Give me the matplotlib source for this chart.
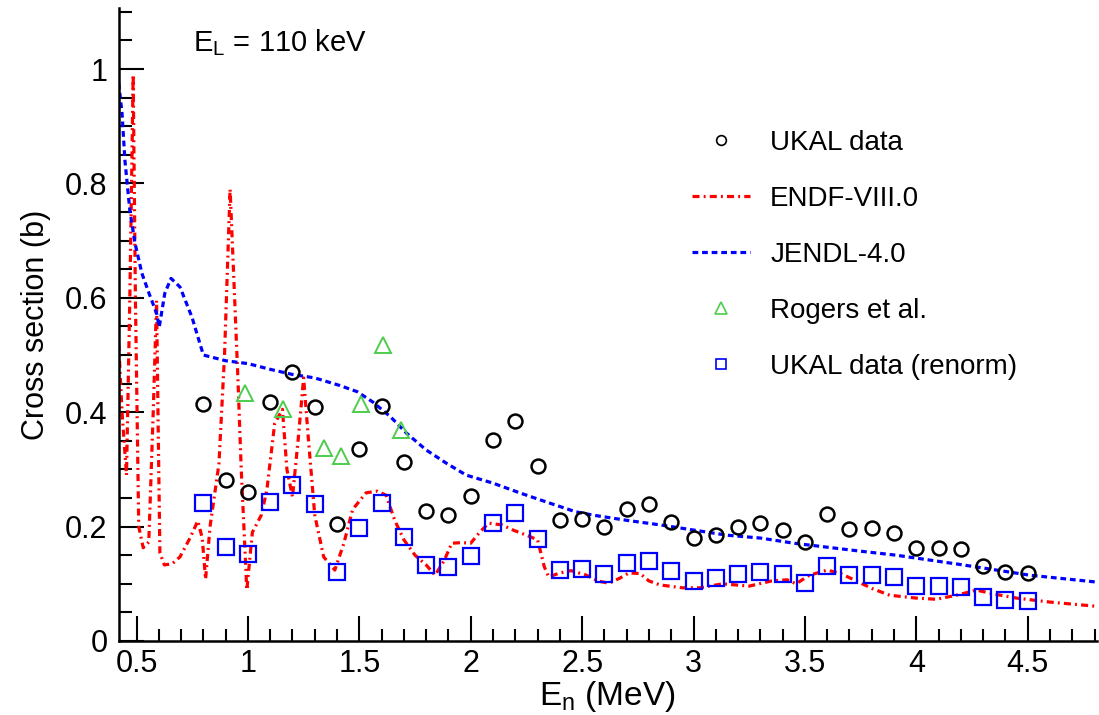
import matplotlib
matplotlib.use("Agg")
import matplotlib.pyplot as plt
from matplotlib.ticker import MultipleLocator
from matplotlib.lines import Line2D

plt.rcParams['font.family'] = ['Liberation Sans', 'DejaVu Sans']
plt.rcParams['mathtext.fontset'] = 'custom'
plt.rcParams['mathtext.rm'] = 'Liberation Sans'
plt.rcParams['mathtext.it'] = 'Liberation Sans'

# UKAL data (original normalisation)
ukal_e = [0.8, 0.9, 1.0, 1.1, 1.2, 1.3, 1.4, 1.5, 1.6, 1.7, 1.8, 1.9, 2.0,
          2.1, 2.2, 2.3, 2.4, 2.5, 2.6, 2.7, 2.8, 2.9, 3.0, 3.1, 3.2, 3.3,
          3.4, 3.5, 3.6, 3.7, 3.8, 3.9, 4.0, 4.1, 4.2, 4.3, 4.4, 4.5]
ukal_xs = [0.414, 0.281, 0.260, 0.418, 0.470, 0.409, 0.205, 0.336, 0.411,
           0.313, 0.227, 0.220, 0.254, 0.351, 0.385, 0.306, 0.212, 0.213,
           0.200, 0.231, 0.239, 0.208, 0.180, 0.185, 0.200, 0.206, 0.194,
           0.173, 0.222, 0.196, 0.197, 0.189, 0.163, 0.163, 0.161, 0.131,
           0.121, 0.119]

# UKAL data renormalised
renorm_xs = [0.241, 0.165, 0.152, 0.243, 0.273, 0.239, 0.120, 0.197, 0.241,
             0.182, 0.133, 0.130, 0.149, 0.206, 0.224, 0.178, 0.124, 0.126,
             0.118, 0.136, 0.140, 0.122, 0.105, 0.110, 0.118, 0.120, 0.117,
             0.101, 0.131, 0.115, 0.115, 0.112, 0.097, 0.097, 0.095, 0.077,
             0.072, 0.070]

# Rogers et al.
rogers_e = [0.985, 1.157, 1.34, 1.42, 1.508, 1.606, 1.686]
rogers_xs = [0.434, 0.405, 0.337, 0.323, 0.414, 0.517, 0.369]

# ENDF/B-VIII.0 evaluation
endf_e = [0.42, 0.435, 0.455, 0.47, 0.485, 0.495, 0.51, 0.53, 0.555, 0.575,
          0.59, 0.598, 0.605, 0.625, 0.66, 0.695, 0.74, 0.775, 0.795, 0.81,
          0.83, 0.87, 0.895, 0.92, 0.935, 0.955, 0.97, 0.995, 1.02, 1.06,
          1.085, 1.12, 1.155, 1.175, 1.2, 1.225, 1.25, 1.27, 1.3, 1.34,
          1.39, 1.43, 1.47, 1.53, 1.58, 1.62, 1.66, 1.7, 1.75, 1.8, 1.84,
          1.88, 1.915, 1.96, 2.0, 2.04, 2.08, 2.14, 2.19, 2.25, 2.3, 2.33,
          2.35, 2.4, 2.45, 2.52, 2.57, 2.62, 2.67, 2.71, 2.76, 2.8, 2.85,
          2.95, 3.03, 3.13, 3.25, 3.35, 3.42, 3.46, 3.52, 3.6, 3.66, 3.72,
          3.8, 3.88, 4.0, 4.09, 4.18, 4.27, 4.35, 4.45, 4.6, 4.8]
endf_xs = [0.52, 0.40, 0.29, 0.60, 0.99, 0.60, 0.20, 0.163, 0.173, 0.40,
           0.595, 0.35, 0.154, 0.133, 0.135, 0.147, 0.18, 0.21, 0.18, 0.108,
           0.20, 0.31, 0.50, 0.79, 0.65, 0.46, 0.30, 0.089, 0.19, 0.22,
           0.264, 0.38, 0.405, 0.30, 0.252, 0.35, 0.46, 0.36, 0.22, 0.147,
           0.124, 0.17, 0.23, 0.259, 0.262, 0.255, 0.21, 0.177, 0.15, 0.133,
           0.115, 0.14, 0.171, 0.172, 0.171, 0.19, 0.206, 0.203, 0.194,
           0.185, 0.177, 0.13, 0.112, 0.119, 0.123, 0.115, 0.105, 0.101,
           0.11, 0.119, 0.118, 0.105, 0.098, 0.093, 0.093, 0.10, 0.096,
           0.105, 0.107, 0.10, 0.115, 0.124, 0.118, 0.107, 0.092, 0.08,
           0.075, 0.073, 0.08, 0.089, 0.082, 0.075, 0.068, 0.061]

# JENDL-4.0 evaluation
jendl_e = [0.42, 0.435, 0.448, 0.47, 0.493, 0.524, 0.556, 0.59, 0.602,
           0.627, 0.655, 0.695, 0.749, 0.80, 0.9, 1.0, 1.1, 1.2, 1.3, 1.41,
           1.49, 1.56, 1.64, 1.71, 1.8, 1.89, 1.98, 2.1, 2.22, 2.34, 2.47,
           2.55, 2.7, 2.85, 3.0, 3.15, 3.3, 3.45, 3.6, 3.75, 3.91, 4.21,
           4.51, 4.81]
jendl_xs = [0.975, 0.923, 0.84, 0.753, 0.696, 0.643, 0.608, 0.573, 0.549,
            0.608, 0.634, 0.619, 0.566, 0.50, 0.49, 0.485, 0.475, 0.466,
            0.46, 0.447, 0.436, 0.418, 0.392, 0.364, 0.334, 0.311, 0.29,
            0.276, 0.259, 0.243, 0.226, 0.22, 0.211, 0.203, 0.194, 0.185,
            0.18, 0.171, 0.164, 0.157, 0.15, 0.133, 0.115, 0.103]

# line styles (ROOT-like)
endf_ls = (0, (2.2, 1.3, 0.6, 1.3))
jendl_ls = (0, (1.8, 1.2))

fig = plt.figure(figsize=(10.99, 7.15), dpi=100)
ax = fig.add_axes([0.108, 0.1035, 0.89, 0.8855])

ax.plot(endf_e, endf_xs, color='red', lw=2.3, ls=endf_ls)
ax.plot(jendl_e, jendl_xs, color='blue', lw=2.3, ls=jendl_ls)
ax.plot(ukal_e, ukal_xs, 'o', mfc='none', mec='black', mew=1.8, ms=10)
ax.plot(rogers_e, rogers_xs, '^', mfc='none', mec='#4dcc4d', mew=1.4, ms=11)
ax.plot(ukal_e, renorm_xs, 's', mfc='none', mec='blue', mew=1.6, ms=11)

ax.set_xlim(0.42, 4.81)
ax.set_ylim(0, 1.107)
ax.xaxis.set_minor_locator(MultipleLocator(0.1))
ax.yaxis.set_minor_locator(MultipleLocator(0.05))
ax.set_xticks([0.5, 1, 1.5, 2, 2.5, 3, 3.5, 4, 4.5])
ax.set_xticklabels(['0.5', '1', '1.5', '2', '2.5', '3', '3.5', '4', '4.5'])
ax.set_yticks([0, 0.2, 0.4, 0.6, 0.8, 1.0])
ax.set_yticklabels(['0', '0.2', '0.4', '0.6', '0.8', '1'])
ax.tick_params(which='both', direction='in', labelsize=22, width=1.5)
ax.tick_params(which='major', length=18)
ax.tick_params(which='minor', length=9)
ax.tick_params(axis='x', pad=6)
ax.tick_params(axis='y', pad=8)
for s in ['top', 'right']:
    ax.spines[s].set_visible(False)
for s in ['left', 'bottom']:
    ax.spines[s].set_linewidth(1.8)

ax.set_xlabel(r'$\mathregular{E_n}$ (MeV)', fontsize=24, labelpad=0)
ax.set_ylabel('Cross section (b)', fontsize=22, labelpad=10)

ax.text(0.0757, 0.945, r'$\mathregular{E_L}$ = 110 keV', transform=ax.transAxes,
        fontsize=21, va='center', ha='left')

handles = [
    Line2D([], [], ls='none', marker='o', mfc='none', mec='black', mew=1.2, ms=7),
    Line2D([], [], color='red', lw=2.3, ls=endf_ls),
    Line2D([], [], color='blue', lw=2.3, ls=jendl_ls),
    Line2D([], [], ls='none', marker='^', mfc='none', mec='#4dcc4d', mew=1.2, ms=8),
    Line2D([], [], ls='none', marker='s', mfc='none', mec='blue', mew=1.2, ms=7),
]
labels = ['UKAL data', 'ENDF-VIII.0', 'JENDL-4.0', 'Rogers et al.',
          'UKAL data (renorm)']
ax.legend(handles, labels, loc='upper left', bbox_to_anchor=(0.586, 0.807),
          frameon=False, fontsize=20, labelspacing=1.08, handlelength=2.1,
          handletextpad=0.72, borderaxespad=0, borderpad=0)

fig.savefig('out.png', dpi=100)
